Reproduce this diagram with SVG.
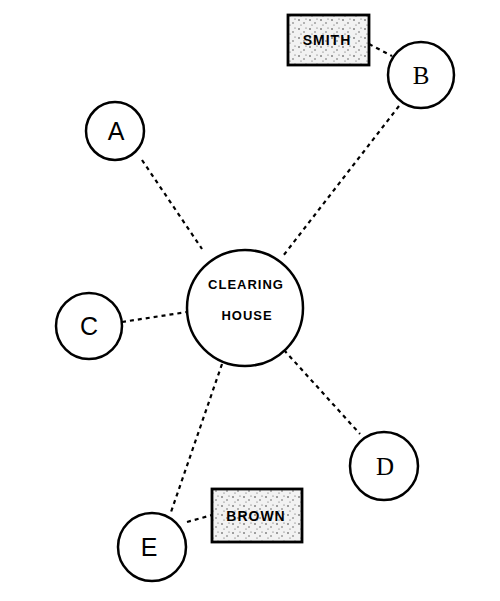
<svg xmlns="http://www.w3.org/2000/svg" width="500" height="601" viewBox="0 0 500 601">
<defs>
<pattern id="speck" width="11" height="9" patternUnits="userSpaceOnUse">
<rect width="11" height="9" fill="#f2f2f2"/>
<circle cx="2" cy="2" r="0.8" fill="#333"/>
<circle cx="7" cy="5" r="0.7" fill="#444"/>
<circle cx="4" cy="7" r="0.6" fill="#555"/>
<circle cx="9" cy="1" r="0.6" fill="#555"/>
</pattern>
</defs>
<style>
.node{fill:#fff;stroke:#000;stroke-width:2.5}
.box{fill:url(#speck);stroke:#000;stroke-width:2.8}
.lbl{font-family:"Liberation Sans",Arial,sans-serif;font-size:25px;fill:#000;text-anchor:middle}
.small{font-family:"Liberation Sans",Arial,sans-serif;font-size:14px;font-weight:bold;fill:#000;text-anchor:middle;letter-spacing:1px}
.conn{stroke:#000;stroke-width:2.2;stroke-dasharray:4 4;fill:none}
</style>
<rect width="500" height="601" fill="#fff"/>
<g id="connectors">
<line class="conn" x1="142" y1="160" x2="202" y2="249"/>
<line class="conn" x1="399" y1="106" x2="283" y2="256"/>
<line class="conn" x1="369" y1="44" x2="392" y2="56"/>
<line class="conn" x1="122" y1="322" x2="187" y2="312"/>
<line class="conn" x1="284" y1="350" x2="360" y2="434"/>
<line class="conn" x1="222" y1="364" x2="170" y2="515"/>
<line class="conn" x1="187" y1="522" x2="212" y2="515"/>
</g>
<g id="clearing-house">
<circle class="node" cx="245" cy="308" r="58"/>
<text class="small" x="246" y="289" style="font-size:13px">CLEARING</text>
<text class="small" x="247" y="320" style="font-size:13px">HOUSE</text>
</g>
<g id="node-A">
<circle class="node" cx="115" cy="131" r="29"/>
<text class="lbl" x="116" y="140">A</text>
</g>
<g id="node-B">
<circle class="node" cx="421" cy="75" r="33"/>
<text class="lbl" x="421" y="84" style="font-family:'Liberation Serif',serif">B</text>
</g>
<g id="node-C">
<circle class="node" cx="89" cy="326" r="33"/>
<text class="lbl" x="89" y="335">C</text>
</g>
<g id="node-D">
<circle class="node" cx="384" cy="466" r="34"/>
<text class="lbl" x="385" y="475" style="font-family:'Liberation Serif',serif">D</text>
</g>
<g id="node-E">
<circle class="node" cx="152" cy="547" r="34"/>
<text class="lbl" x="149" y="556">E</text>
</g>
<g id="box-smith">
<rect class="box" x="288" y="15" width="81" height="50"/>
<text class="small" x="327" y="45">SMITH</text>
</g>
<g id="box-brown">
<rect class="box" x="212" y="489" width="90" height="53"/>
<text class="small" x="256" y="521">BROWN</text>
</g>
</svg>
